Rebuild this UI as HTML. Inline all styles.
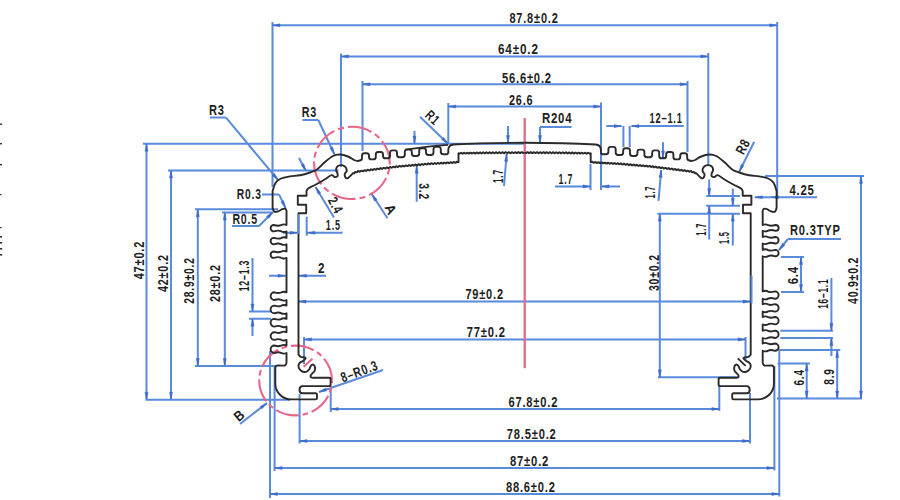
<!DOCTYPE html>
<html><head><meta charset="utf-8"><title>Profile drawing</title>
<style>html,body{margin:0;padding:0;background:#fff;overflow:hidden}svg{display:block}text{font-family:"Liberation Sans",sans-serif}</style>
</head><body>
<svg width="900" height="500" viewBox="0 0 900 500">
<rect width="900" height="500" fill="#ffffff"/>
<path d="M272.5 22L272.5 187M777.2 22L777.2 196M272.5 25.3L777.2 25.3M341 53.5L341 167M708.3 53L708.3 166M341 56.4L708.3 56.4M362.5 81L362.5 151M687.5 81L687.5 152M362.5 84.3L687.5 84.3M448.3 103L448.3 143.5M601 102.5L601 190M448.3 106.5L601 106.5M143 143.7L524 143.7M168 170.5L338.5 170.5M146.5 143.7L146.5 399.7M171 170.5L171 399.7M145.6 399.7L290 399.7M195 209.2L278 209.2M222 212.5L272 212.5M197.8 209.2L197.8 366M224.8 212.5L224.8 366M195 366L276 366M252.5 258L252.5 311.5M249 311.5L271 311.5M249 318.8L271 318.8M252.5 318.8L252.5 336M262 194.4L279 194.4M279 194.4L285.5 208M232 226L259 226M259 226L273 212M210 117.6L226 117.6M226 117.6L278 180M302.5 120L318.3 120M318.3 120L334.5 154.5M420 116.7L448 143.7M299 158L306 171M315.5 187L334 217.5M306.7 216.7L306.7 235.8M307.5 232.8L342.5 232.8M283 232.8L297.5 232.8M269 275.8L285.5 275.8M299 275.8L326 275.8M371.7 194L387.5 218.3M414.5 131L414.5 143.5M416.7 165.8L416.7 201.7M508 126L508 143M506.7 154L504 186M540 127L571.6 127M540 127L540 143M555 186.4L590.5 186.4M590.5 164L590.5 190M601.5 186.4L620 186.4M631.5 126.1L683.7 126.1M606.3 126.1L621.6 126.1M623.4 126L623.4 147M629.7 126L629.7 147M663 142.3L663 158.5M661.2 170L658.5 200.8M754.2 141.7L739.2 171.7M765 175.9L864 175.9M861 175.9L861 398.5M777 398.5L862 398.5M754.8 197.3L817 197.3M706.2 196L740 196M706.2 205.7L740 205.7M657.4 213.7L740 213.7M709.2 179.5L709.2 196M709.2 205.7L709.2 239.5M732.8 188.5L732.8 205.7M732.8 213.7L732.8 245.5M659.8 213.7L659.8 377.3M658 377.3L739 377.3M788 239L841 239M788 239L779 250M801 257L801 292M781 257L804 257M781 292L804 292M831.4 278L831.4 330.8M780.3 330.8L833 330.8M780.3 338L833 338M831.4 338L831.4 356M837.2 350L837.2 398.5M779 350L840.3 350M806.7 363.5L806.7 398.5M777.5 363.5L810 363.5M298.5 301.6L750.5 301.6M304 339.4L745.5 339.4M304 337L304 364M745.5 337L745.5 360M330.7 409L719.3 409M330.7 386L330.7 412M719.3 386L719.3 411M299.6 441L750 441M299.6 394L299.6 443.5M750 393L750 443.5M274.6 468L774.4 468M274.6 366L274.6 471M774.4 366L774.4 470.5M270 494L779.3 494M270 351L270 498M779.3 349.8L779.3 496.5M319 392L383 370M240 424L267 403" stroke="#5a8adb" stroke-width="2" fill="none"/>
<path d="M272.5 25.3L280 23.75L280 26.85ZM777.2 25.3L769.7 26.85L769.7 23.75ZM341 56.4L348.5 54.85L348.5 57.95ZM708.3 56.4L700.8 57.95L700.8 54.85ZM362.5 84.3L370 82.75L370 85.85ZM687.5 84.3L680 85.85L680 82.75ZM448.3 106.5L455.8 104.95L455.8 108.05ZM601 106.5L593.5 108.05L593.5 104.95ZM146.5 143.7L148.05 151.2L144.95 151.2ZM146.5 399.7L144.95 392.2L148.05 392.2ZM171 170.5L172.55 178L169.45 178ZM171 399.7L169.45 392.2L172.55 392.2ZM197.8 209.2L199.35 216.7L196.25 216.7ZM197.8 366L196.25 358.5L199.35 358.5ZM224.8 212.5L226.35 220L223.25 220ZM224.8 366L223.25 358.5L226.35 358.5ZM252.5 311.5L250.95 304L254.05 304ZM252.5 318.8L254.05 326.3L250.95 326.3ZM285.5 208L280.87 201.9L283.66 200.56ZM273 212L268.79 218.4L266.6 216.21ZM278 180L272.01 175.23L274.39 173.25ZM334.5 154.5L329.91 148.37L332.72 147.05ZM448 143.7L441.53 139.61L443.68 137.38ZM306 171L301.08 165.13L303.81 163.66ZM315.5 187L320.71 192.61L318.06 194.22ZM307.5 232.8L315 231.25L315 234.35ZM297.5 232.8L290 234.35L290 231.25ZM285.5 275.8L278 277.35L278 274.25ZM299 275.8L306.5 274.25L306.5 277.35ZM371.7 194L377.09 199.44L374.49 201.13ZM414.5 143.5L412.95 136L416.05 136ZM416.7 165.8L418.25 173.3L415.15 173.3ZM508 143L506.45 135.5L509.55 135.5ZM506.7 154L507.61 161.6L504.52 161.34ZM540 143L538.45 135.5L541.55 135.5ZM590.5 186.4L583 187.95L583 184.85ZM601.5 186.4L609 184.85L609 187.95ZM631.5 126.1L639 124.55L639 127.65ZM621.6 126.1L614.1 127.65L614.1 124.55ZM663 158.5L661.45 151L664.55 151ZM661.2 170L662.09 177.61L659 177.34ZM739.2 171.7L741.17 164.3L743.94 165.68ZM861 175.9L862.55 183.4L859.45 183.4ZM861 398.5L859.45 391L862.55 391ZM754.8 197.3L762.3 195.75L762.3 198.85ZM771 197.3L778.5 195.75L778.5 198.85ZM709.2 196L707.65 188.5L710.75 188.5ZM709.2 205.7L710.75 213.2L707.65 213.2ZM732.8 205.7L731.25 198.2L734.35 198.2ZM732.8 213.7L734.35 221.2L731.25 221.2ZM659.8 213.7L661.35 221.2L658.25 221.2ZM659.8 377.3L658.25 369.8L661.35 369.8ZM779 250L782.55 243.21L784.95 245.18ZM801 257L802.55 264.5L799.45 264.5ZM801 292L799.45 284.5L802.55 284.5ZM831.4 330.8L829.85 323.3L832.95 323.3ZM831.4 338L832.95 345.5L829.85 345.5ZM837.2 350L838.75 357.5L835.65 357.5ZM837.2 398.5L835.65 391L838.75 391ZM806.7 363.5L808.25 371L805.15 371ZM806.7 398.5L805.15 391L808.25 391ZM298.5 301.6L306 300.05L306 303.15ZM750.5 301.6L743 303.15L743 300.05ZM304 339.4L311.5 337.85L311.5 340.95ZM745.5 339.4L738 340.95L738 337.85ZM330.7 409L338.2 407.45L338.2 410.55ZM719.3 409L711.8 410.55L711.8 407.45ZM299.6 441L307.1 439.45L307.1 442.55ZM750 441L742.5 442.55L742.5 439.45ZM274.6 468L282.1 466.45L282.1 469.55ZM774.4 468L766.9 469.55L766.9 466.45ZM270 494L277.5 492.45L277.5 495.55ZM779.3 494L771.8 495.55L771.8 492.45ZM319 392L325.59 388.1L326.6 391.03ZM267 403L262.03 408.83L260.13 406.38Z" fill="#3d6bcc" stroke="#3d6bcc" stroke-width="0.4"/>
<line x1="524.7" y1="118" x2="524.7" y2="368.2" stroke="#ea6688" stroke-width="2.3"/>
<ellipse cx="351.9" cy="162.9" rx="37.8" ry="36.1" stroke="#ea6688" stroke-width="2.1" fill="none" stroke-dasharray="24.5 4 6 4" stroke-dashoffset="22.7"/>
<ellipse cx="295.6" cy="380.5" rx="36.4" ry="34.9" stroke="#ea6688" stroke-width="2.1" fill="none" stroke-dasharray="23.5 3.8 5.7 3.8" stroke-dashoffset="20.9"/>
<line x1="303.7" y1="366.8" x2="312.4" y2="358.7" stroke="#ea6688" stroke-width="2"/>
<g fill="none" stroke="#2a2a2a" stroke-width="1.9" stroke-linejoin="round">
<path d="M524.6 142.7 Q486 142.9 453.5 144.5 Q448.6 145 448.3 149.5 L448.3 152 Q448.3 154.2 446.5 154.2 L443.2 154.2 Q440.8 154.2 440.8 151.8 L440.8 149.3 Q440.8 146.9 438.4 146.9 L435.9 146.9 Q433.5 146.9 433.5 149.3 L433.5 152.6 Q433.5 155 431.1 155 L428.4 155 Q426 155 426 152.6 L426 150.7 Q426 148.3 423.6 148.3 L421.6 148.3 Q419.2 148.3 419.2 150.7 L419.2 153.6 Q419.2 156 416.8 156 L414.2 156 Q411.8 156 411.8 153.6 L411.8 152 Q411.8 149.6 409.4 149.6 L407.2 149.6 Q404.8 149.6 404.8 152 L404.8 154.8 Q404.8 157.2 402.4 157.2 L399.4 157.2 Q397 157.2 397 154.8 L397 152.8 Q397 150.4 394.6 150.4 L392.4 150.4 Q390 150.4 390 152.8 L390 155.9 Q390 158.3 387.6 158.3 L385.4 158.3 Q383 158.3 383 155.9 L383 154.4 Q383 152 380.6 152 L378.2 152 Q375.8 152 375.8 154.4 L375.8 157 Q375.8 159.4 373.4 159.4 L371.4 159.4 Q369 159.4 369 157 L369 155.7 Q369 153.3 366.6 153.3 L364.4 153.3 Q362 153.3 362 155.7 L362 158.1 Q362 160.5 359.6 160.5 L358 161 C357.33 160.83 355.67 160.75 354 160C352.33 159.25 350.33 157.42 348 156.5C345.67 155.58 342.5 154.58 340 154.5C337.5 154.42 335.5 154.75 333 156C330.5 157.25 327.67 159.75 325 162C322.33 164.25 319.5 167.75 317 169.5C314.5 171.25 312.83 171.53 310 172.5C307.17 173.47 303.33 174.65 300 175.3C296.67 175.95 293.17 175.87 290 176.4C286.83 176.93 283.42 177.4 281 178.5C278.58 179.6 276.9 180.92 275.5 183C274.1 185.08 273.08 189.67 272.6 191 L272.6 208 C272.87 208.6 273.27 211.03 274.2 211.6C275.13 212.17 276.87 211.8 278.2 211.4C279.53 211 281 209.63 282.2 209.2C283.4 208.77 284.68 208.5 285.4 208.8C286.12 209.1 286.32 210.3 286.5 211C286.68 211.7 286.5 212.67 286.5 213 L286.5 225 Q283.5 223.7 281 225.2 Q278.5 226.4 273.8 225 A3.2 3.2 0 0 0 273.8 231.4 Q278.5 230 281 231.2 Q283.5 232.7 286.5 231.4  L286.5 237.9 Q283.5 236.6 281 238.1 Q278.5 239.3 273.8 237.9 A3.2 3.2 0 0 0 273.8 244.3 Q278.5 242.9 281 244.1 Q283.5 245.6 286.5 244.3  L286.5 251.5 Q283.5 250.2 281 251.7 Q278.5 252.9 273.8 251.5 A3.2 3.2 0 0 0 273.8 257.9 Q278.5 256.5 281 257.7 Q283.5 259.2 286.5 257.9  L286.5 292.3 Q283.5 291 281 292.5 Q278.5 293.7 274.45 292.3 A3.85 3.85 0 0 0 274.45 300 Q278.5 298.6 281 299.8 Q283.5 301.3 286.5 300  L286.5 305.6 Q283.5 304.3 281 305.8 Q278.5 307 274.45 305.6 A3.85 3.85 0 0 0 274.45 313.3 Q278.5 311.9 281 313.1 Q283.5 314.6 286.5 313.3  L286.5 318.9 Q283.5 317.6 281 319.1 Q278.5 320.3 274.45 318.9 A3.85 3.85 0 0 0 274.45 326.6 Q278.5 325.2 281 326.4 Q283.5 327.9 286.5 326.6  L286.5 332.2 Q283.5 330.9 281 332.4 Q278.5 333.6 274.45 332.2 A3.85 3.85 0 0 0 274.45 339.9 Q278.5 338.5 281 339.7 Q283.5 341.2 286.5 339.9  L286.5 345.5 Q283.5 344.2 281 345.7 Q278.5 346.9 274.35 345.5 A3.75 3.75 0 0 0 274.35 353 Q278.5 351.6 281 352.8 Q283.5 354.3 286.5 353  L286.5 362.5 Q286.3 366 283 365.6 L278 365.4 Q275.3 365.4 275.3 368 L275.3 383.4 A16 16 0 0 0 291.3 399.4 L315.5 399.4 Q317 399.4 317 398 L317 394.6 Q317 393.3 315.5 393.3 L302.6 393.3 Q299.5 393.3 299.5 389.7 Q299.5 386.1 302.6 386.1 L329 386.1 Q330.6 386.1 330.6 384.5 L330.6 379.3 Q330.6 377.8 329 377.8 L314 377.8 C313.5 377.88 311.55 377.72 311 377.3C310.45 376.88 310.48 376.13 310.7 375.5C310.92 374.87 311.65 374.28 312.3 373.5C312.95 372.72 314.15 371.8 314.6 370.8C315.05 369.8 315.13 368.47 315 367.5C314.87 366.53 314.33 365.45 313.8 365C313.27 364.55 312.37 364.5 311.8 364.8C311.23 365.1 310.82 366.07 310.4 366.8C309.98 367.53 309.82 368.47 309.3 369.2C308.78 369.93 308.1 370.73 307.3 371.2C306.5 371.67 305.45 372.02 304.5 372C303.55 371.98 302.48 371.67 301.6 371.1C300.72 370.53 299.7 369.62 299.2 368.6C298.7 367.58 298.43 366.02 298.6 365C298.77 363.98 299.47 363.18 300.2 362.5C300.93 361.82 302.1 361.55 303 360.9C303.9 360.25 305.33 359.18 305.6 358.6C305.87 358.02 305.37 357.67 304.6 357.4C303.83 357.13 302.02 357.48 301 357C299.98 356.52 298.92 354.92 298.5 354.5 L298.5 213.2 L306.2 213.2 L306.2 204.8 L297.8 204.8 L297.8 195.8 L306.5 195.8 L306.5 191 C306.83 190.55 307.08 189.3 308.5 188.3C309.92 187.3 312.25 186.52 315 185C317.75 183.48 322.25 180.83 325 179.2C327.75 177.57 329.92 175.57 331.5 175.2C333.08 174.83 333.53 176.82 334.5 177C335.47 177.18 336.78 176.83 337.3 176.3C337.82 175.77 337.78 174.8 337.6 173.8C337.42 172.8 336.33 171.4 336.2 170.3C336.07 169.2 336.25 168.02 336.8 167.2C337.35 166.38 338.47 165.7 339.5 165.4C340.53 165.1 341.95 165.07 343 165.4C344.05 165.73 345.2 166.47 345.8 167.4C346.4 168.33 346.77 169.9 346.6 171C346.43 172.1 345.03 173 344.8 174C344.57 175 344.8 176.27 345.2 177C345.6 177.73 346.47 178.47 347.2 178.4C347.93 178.33 348.63 177.47 349.6 176.6C350.57 175.73 352.43 173.77 353 173.2 L353 173.2L354.01 173.43L354.61 172.47L355.34 171.89L356.44 172.37L357.29 172.15L357.94 171.06L358.77 171.09L359.68 171.75L360.46 171.46L361.18 170.6L362.02 170.73L362.92 171.37L363.69 170.98L364.41 170.15L365.26 170.38L366.16 170.97L366.92 170.5L367.65 169.71L368.51 170.02L369.4 170.57L370.15 170.01L370.88 169.28L371.76 169.67L372.64 170.16L373.38 169.52L374.12 168.86L375 169.32L375.87 169.75L376.61 169.06L377.35 168.47L378.24 168.99L379.1 169.35L379.83 168.62L380.58 168.09L381.47 168.65L382.32 168.96L383.05 168.18L383.81 167.72L384.7 168.32L385.55 168.55L386.27 167.74L387.04 167.35L387.93 167.98L388.77 168.15L389.49 167.31L390.27 166.98L391.16 167.64L391.99 167.73L392.71 166.87L393.49 166.62L394.39 167.3L395.21 167.32L395.93 166.44L396.72 166.27L397.62 166.95L398.44 166.9L399.15 166.02L399.97 165.91L400.84 166.63L401.65 166.53L402.4 165.68L403.21 165.69L404.09 166.4L404.89 166.21L405.64 165.37L406.46 165.47L407.34 166.16L408.13 165.89L408.88 165.07L409.71 165.25L410.58 165.92L411.37 165.57L412.12 164.78L412.96 165.03L413.83 165.67L414.61 165.25L415.36 164.49L416.21 164.82L417.07 165.42L417.85 164.92L418.6 164.21L419.45 164.6L420.32 165.16L421.08 164.59L421.85 163.93L422.7 164.39L423.56 164.89L424.32 164.26L425.09 163.66L425.95 164.18L426.8 164.62L427.56 163.93L428.33 163.39L429.2 163.97L430.03 164.34L430.81 163.62L431.6 163.18L432.45 163.83L433.29 164.14L434.06 163.38L434.86 163.02L435.71 163.71L436.54 163.93L437.31 163.13L438.12 162.86L438.97 163.58L439.8 163.71L440.57 162.89L441.38 162.72L442.23 163.45L443.05 163.49L443.82 162.66L444.63 162.58L445.49 163.32L446.31 163.26L447.08 162.43L447.89 162.44L448.75 163.18L449.56 163.03L450.33 162.2L451.15 162.32L452.01 163.04L452.81 162.79L453.59 161.99L454.42 162.19L455.27 162.89L456.07 162.54L456.84 161.78L457.68 162.07L458.5 162.2 L458.5 153.3 L458.5 153.3L459.34 153.83L460.15 153.21L460.97 152.71L461.81 153.35L462.64 153.75L463.46 153.04L464.28 152.68L465.12 153.4L465.95 153.65L466.76 152.87L467.59 152.67L468.43 153.44L469.26 153.52L470.07 152.71L470.9 152.68L471.74 153.47L472.56 153.38L473.38 152.57L474.21 152.72L475.05 153.47L475.87 153.22L476.68 152.46L477.52 152.76L478.36 153.46L479.18 153.05L479.99 152.36L480.8 152.79L481.61 153.42L482.4 152.98L483.19 152.33L484 152.76L484.81 153.39L485.6 152.95L486.39 152.3L487.2 152.73L488.01 153.36L488.8 152.91L489.59 152.26L490.4 152.69L491.21 153.33L492 152.88L492.79 152.23L493.6 152.66L494.41 153.3L495.2 152.85L495.99 152.2L496.8 152.63L497.61 153.26L498.4 152.82L499.19 152.17L500 152.6L500.82 153.24L501.64 152.75L502.46 152.14L503.28 152.67L504.1 153.23L504.92 152.65L505.74 152.13L506.56 152.74L507.38 153.21L508.2 152.55L509.02 152.13L509.84 152.81L510.66 153.18L511.48 152.46L512.3 152.14L513.12 152.88L513.94 153.13L514.76 152.37L515.58 152.17L516.4 152.94L517.22 153.07L518.04 152.28L518.86 152.21L519.68 153L520.5 153L521.32 152.21L522.14 152.26L522.96 153.04L523.78 152.92L524.6 152.6"/>
<path d="M448 144.9 Q430 146.2 405 149.6"/>
<path d="M737.8 358.4L745.6 365.9"/>
<path transform="translate(1049.2 0) scale(-1 1)" d="M524.6 142.7 Q486 142.9 453.5 144.5 Q448.6 145 448.3 149.5 L448.3 152 Q448.3 154.2 446.5 154.2 L443.2 154.2 Q440.8 154.2 440.8 151.8 L440.8 149.3 Q440.8 146.9 438.4 146.9 L435.9 146.9 Q433.5 146.9 433.5 149.3 L433.5 152.6 Q433.5 155 431.1 155 L428.4 155 Q426 155 426 152.6 L426 150.7 Q426 148.3 423.6 148.3 L421.6 148.3 Q419.2 148.3 419.2 150.7 L419.2 153.6 Q419.2 156 416.8 156 L414.2 156 Q411.8 156 411.8 153.6 L411.8 152 Q411.8 149.6 409.4 149.6 L407.2 149.6 Q404.8 149.6 404.8 152 L404.8 154.8 Q404.8 157.2 402.4 157.2 L399.4 157.2 Q397 157.2 397 154.8 L397 152.8 Q397 150.4 394.6 150.4 L392.4 150.4 Q390 150.4 390 152.8 L390 155.9 Q390 158.3 387.6 158.3 L385.4 158.3 Q383 158.3 383 155.9 L383 154.4 Q383 152 380.6 152 L378.2 152 Q375.8 152 375.8 154.4 L375.8 157 Q375.8 159.4 373.4 159.4 L371.4 159.4 Q369 159.4 369 157 L369 155.7 Q369 153.3 366.6 153.3 L364.4 153.3 Q362 153.3 362 155.7 L362 158.1 Q362 160.5 359.6 160.5 L358 161 C357.33 160.83 355.67 160.75 354 160C352.33 159.25 350.33 157.42 348 156.5C345.67 155.58 342.5 154.58 340 154.5C337.5 154.42 335.5 154.75 333 156C330.5 157.25 327.67 159.75 325 162C322.33 164.25 319.5 167.75 317 169.5C314.5 171.25 312.83 171.53 310 172.5C307.17 173.47 303.33 174.65 300 175.3C296.67 175.95 293.17 175.87 290 176.4C286.83 176.93 283.42 177.4 281 178.5C278.58 179.6 276.9 180.92 275.5 183C274.1 185.08 273.08 189.67 272.6 191 L272.6 208 C272.87 208.6 273.27 211.03 274.2 211.6C275.13 212.17 276.87 211.8 278.2 211.4C279.53 211 281 209.63 282.2 209.2C283.4 208.77 284.68 208.5 285.4 208.8C286.12 209.1 286.32 210.3 286.5 211C286.68 211.7 286.5 212.67 286.5 213 L286.5 225 Q283.5 223.7 281 225.2 Q278.5 226.4 273.5 225 A2.9 2.9 0 0 0 273.5 230.8 Q278.5 229.4 281 230.6 Q283.5 232.1 286.5 230.8  L286.5 237 Q283.5 235.7 281 237.2 Q278.5 238.4 273.85 237 A3.25 3.25 0 0 0 273.85 243.5 Q278.5 242.1 281 243.3 Q283.5 244.8 286.5 243.5  L286.5 249.9 Q283.5 248.6 281 250.1 Q278.5 251.3 273.8 249.9 A3.2 3.2 0 0 0 273.8 256.3 Q278.5 254.9 281 256.1 Q283.5 257.6 286.5 256.3  L286.5 291.4 Q283.5 290.1 281 291.6 Q278.5 292.8 274.3 291.4 A3.7 3.7 0 0 0 274.3 298.8 Q278.5 297.4 281 298.6 Q283.5 300.1 286.5 298.8  L286.5 304.2 Q283.5 302.9 281 304.4 Q278.5 305.6 274.3 304.2 A3.7 3.7 0 0 0 274.3 311.6 Q278.5 310.2 281 311.4 Q283.5 312.9 286.5 311.6  L286.5 317 Q283.5 315.7 281 317.2 Q278.5 318.4 274.3 317 A3.7 3.7 0 0 0 274.3 324.4 Q278.5 323 281 324.2 Q283.5 325.7 286.5 324.4  L286.5 330.7 Q283.5 329.4 281 330.9 Q278.5 332.1 274.25 330.7 A3.65 3.65 0 0 0 274.25 338 Q278.5 336.6 281 337.8 Q283.5 339.3 286.5 338  L286.5 343.5 Q283.5 342.2 281 343.7 Q278.5 344.9 274.25 343.5 A3.65 3.65 0 0 0 274.25 350.8 Q278.5 349.4 281 350.6 Q283.5 352.1 286.5 350.8  L286.5 362.5 Q286.3 366 283 365.6 L278 365.4 Q275.3 365.4 275.3 368 L275.3 383.4 A16 16 0 0 0 291.3 399.4 L315.5 399.4 Q317 399.4 317 398 L317 394.6 Q317 393.3 315.5 393.3 L302.6 393.3 Q299.5 393.3 299.5 389.7 Q299.5 386.1 302.6 386.1 L329 386.1 Q330.6 386.1 330.6 384.5 L330.6 379.3 Q330.6 377.8 329 377.8 L314 377.8 C313.5 377.88 311.55 377.72 311 377.3C310.45 376.88 310.48 376.13 310.7 375.5C310.92 374.87 311.65 374.28 312.3 373.5C312.95 372.72 314.15 371.8 314.6 370.8C315.05 369.8 315.13 368.47 315 367.5C314.87 366.53 314.33 365.45 313.8 365C313.27 364.55 312.37 364.5 311.8 364.8C311.23 365.1 310.82 366.07 310.4 366.8C309.98 367.53 309.82 368.47 309.3 369.2C308.78 369.93 308.1 370.73 307.3 371.2C306.5 371.67 305.45 372.02 304.5 372C303.55 371.98 302.48 371.67 301.6 371.1C300.72 370.53 299.7 369.62 299.2 368.6C298.7 367.58 298.43 366.02 298.6 365C298.77 363.98 299.47 363.18 300.2 362.5C300.93 361.82 302.1 361.55 303 360.9C303.9 360.25 305.33 359.18 305.6 358.6C305.87 358.02 305.37 357.67 304.6 357.4C303.83 357.13 302.02 357.48 301 357C299.98 356.52 298.92 354.92 298.5 354.5 L298.5 213.2 L306.2 213.2 L306.2 204.8 L297.8 204.8 L297.8 195.8 L306.5 195.8 L306.5 191 C306.83 190.55 307.08 189.3 308.5 188.3C309.92 187.3 312.25 186.52 315 185C317.75 183.48 322.25 180.83 325 179.2C327.75 177.57 329.92 175.57 331.5 175.2C333.08 174.83 333.53 176.82 334.5 177C335.47 177.18 336.78 176.83 337.3 176.3C337.82 175.77 337.78 174.8 337.6 173.8C337.42 172.8 336.33 171.4 336.2 170.3C336.07 169.2 336.25 168.02 336.8 167.2C337.35 166.38 338.47 165.7 339.5 165.4C340.53 165.1 341.95 165.07 343 165.4C344.05 165.73 345.2 166.47 345.8 167.4C346.4 168.33 346.77 169.9 346.6 171C346.43 172.1 345.03 173 344.8 174C344.57 175 344.8 176.27 345.2 177C345.6 177.73 346.47 178.47 347.2 178.4C347.93 178.33 348.63 177.47 349.6 176.6C350.57 175.73 352.43 173.77 353 173.2 L353 173.2L354.01 173.43L354.61 172.47L355.34 171.89L356.44 172.37L357.29 172.15L357.94 171.06L358.77 171.09L359.68 171.75L360.46 171.46L361.18 170.6L362.02 170.73L362.92 171.37L363.69 170.98L364.41 170.15L365.26 170.38L366.16 170.97L366.92 170.5L367.65 169.71L368.51 170.02L369.4 170.57L370.15 170.01L370.88 169.28L371.76 169.67L372.64 170.16L373.38 169.52L374.12 168.86L375 169.32L375.87 169.75L376.61 169.06L377.35 168.47L378.24 168.99L379.1 169.35L379.83 168.62L380.58 168.09L381.47 168.65L382.32 168.96L383.05 168.18L383.81 167.72L384.7 168.32L385.55 168.55L386.27 167.74L387.04 167.35L387.93 167.98L388.77 168.15L389.49 167.31L390.27 166.98L391.16 167.64L391.99 167.73L392.71 166.87L393.49 166.62L394.39 167.3L395.21 167.32L395.93 166.44L396.72 166.27L397.62 166.95L398.44 166.9L399.15 166.02L399.97 165.91L400.84 166.63L401.65 166.53L402.4 165.68L403.21 165.69L404.09 166.4L404.89 166.21L405.64 165.37L406.46 165.47L407.34 166.16L408.13 165.89L408.88 165.07L409.71 165.25L410.58 165.92L411.37 165.57L412.12 164.78L412.96 165.03L413.83 165.67L414.61 165.25L415.36 164.49L416.21 164.82L417.07 165.42L417.85 164.92L418.6 164.21L419.45 164.6L420.32 165.16L421.08 164.59L421.85 163.93L422.7 164.39L423.56 164.89L424.32 164.26L425.09 163.66L425.95 164.18L426.8 164.62L427.56 163.93L428.33 163.39L429.2 163.97L430.03 164.34L430.81 163.62L431.6 163.18L432.45 163.83L433.29 164.14L434.06 163.38L434.86 163.02L435.71 163.71L436.54 163.93L437.31 163.13L438.12 162.86L438.97 163.58L439.8 163.71L440.57 162.89L441.38 162.72L442.23 163.45L443.05 163.49L443.82 162.66L444.63 162.58L445.49 163.32L446.31 163.26L447.08 162.43L447.89 162.44L448.75 163.18L449.56 163.03L450.33 162.2L451.15 162.32L452.01 163.04L452.81 162.79L453.59 161.99L454.42 162.19L455.27 162.89L456.07 162.54L456.84 161.78L457.68 162.07L458.5 162.2 L458.5 153.3 L458.5 153.3L459.34 153.83L460.15 153.21L460.97 152.71L461.81 153.35L462.64 153.75L463.46 153.04L464.28 152.68L465.12 153.4L465.95 153.65L466.76 152.87L467.59 152.67L468.43 153.44L469.26 153.52L470.07 152.71L470.9 152.68L471.74 153.47L472.56 153.38L473.38 152.57L474.21 152.72L475.05 153.47L475.87 153.22L476.68 152.46L477.52 152.76L478.36 153.46L479.18 153.05L479.99 152.36L480.8 152.79L481.61 153.42L482.4 152.98L483.19 152.33L484 152.76L484.81 153.39L485.6 152.95L486.39 152.3L487.2 152.73L488.01 153.36L488.8 152.91L489.59 152.26L490.4 152.69L491.21 153.33L492 152.88L492.79 152.23L493.6 152.66L494.41 153.3L495.2 152.85L495.99 152.2L496.8 152.63L497.61 153.26L498.4 152.82L499.19 152.17L500 152.6L500.82 153.24L501.64 152.75L502.46 152.14L503.28 152.67L504.1 153.23L504.92 152.65L505.74 152.13L506.56 152.74L507.38 153.21L508.2 152.55L509.02 152.13L509.84 152.81L510.66 153.18L511.48 152.46L512.3 152.14L513.12 152.88L513.94 153.13L514.76 152.37L515.58 152.17L516.4 152.94L517.22 153.07L518.04 152.28L518.86 152.21L519.68 153L520.5 153L521.32 152.21L522.14 152.26L522.96 153.04L523.78 152.92L524.6 152.6"/>
</g>
<path d="M751.5 275.6L751.5 303.3M298.3 214L298.3 234" stroke="#5a8adb" stroke-width="2" fill="none"/>
<g font-family="Liberation Sans, sans-serif" font-weight="bold" fill="#1e1e1e">
<text x="0 8.8 17.6 22.51 31.31 40.01 48.81 53.72" y="0" font-size="14" transform="translate(509.4 22.8) scale(0.787 1)">87.8±0.2</text>
<text x="0 8.77 17.53 26.2 34.96 39.84" y="0" font-size="14" transform="translate(498 54) scale(0.840 1)">64±0.2</text>
<text x="0 8.79 17.57 22.47 31.25 39.94 48.73 53.62" y="0" font-size="14" transform="translate(502 82.5) scale(0.798 1)">56.6±0.2</text>
<text x="0 8.82 17.63 22.56" y="0" font-size="14" transform="translate(509 104.5) scale(0.774 1)">26.6</text>
<text x="0 11.12" y="0" font-size="14" transform="translate(209 115) scale(0.794 1)">R3</text>
<text x="0 11.15" y="0" font-size="14" transform="translate(301.7 116.8) scale(0.771 1)">R3</text>
<text x="0 11.09 19.85 28.62" y="0" font-size="14" transform="translate(541.9 123.4) scale(0.816 1)">R204</text>
<text x="0 8.99 17.98 26.97 35.96 41.06" y="0" font-size="14" transform="translate(649.5 123.4) scale(0.663 1)">12–1.1</text>
<text x="0 11.19 20.06 25.04" y="0" font-size="14" transform="translate(236.8 198.5) scale(0.737 1)">R0.3</text>
<text x="0 11.16 20 24.95" y="0" font-size="14" transform="translate(232.4 223.5) scale(0.758 1)">R0.5</text>
<text x="0 9.02 14.15" y="0" font-size="14" transform="translate(325.8 230) scale(0.647 1)">1.5</text>
<text x="0" y="0" font-size="14" transform="translate(318 273.2) scale(0.835 1)">2</text>
<text x="0 9.05 14.21" y="0" font-size="14" transform="translate(558.6 183.7) scale(0.632 1)">1.7</text>
<text x="0 8.77 13.65 22.42" y="0" font-size="14" transform="translate(789.4 194.7) scale(0.811 1)">4.25</text>
<text x="0 11.11 19.9 24.8 33.59 43.15 53.49" y="0" font-size="14" transform="translate(790 235) scale(0.796 1)">R0.3TYP</text>
<text x="0 8.8 17.6 26.3 35.11 40.02" y="0" font-size="14" transform="translate(465.4 298.9) scale(0.787 1)">79±0.2</text>
<text x="0 8.78 17.56 26.24 35.02 39.91" y="0" font-size="14" transform="translate(466.7 337.2) scale(0.803 1)">77±0.2</text>
<text x="0 8.79 17.57 22.47 31.25 39.94 48.73 53.62" y="0" font-size="14" transform="translate(508.4 407) scale(0.798 1)">67.8±0.2</text>
<text x="0 8.79 17.57 22.47 31.25 39.94 48.73 53.62" y="0" font-size="14" transform="translate(506.8 439.2) scale(0.798 1)">78.5±0.2</text>
<text x="0 8.78 17.55 26.23 35.01 39.9" y="0" font-size="14" transform="translate(510 465.8) scale(0.805 1)">87±0.2</text>
<text x="0 8.79 17.57 22.47 31.25 39.94 48.73 53.62" y="0" font-size="14" transform="translate(505.9 491.5) scale(0.798 1)">88.6±0.2</text>
<text x="0 8.8 17.6 26.3 35.11 40.02" y="0" font-size="14" transform="translate(144.1 279.3) rotate(-90) scale(0.787 1)">47±0.2</text>
<text x="0 8.82 17.64 26.36 35.18 40.11" y="0" font-size="14" transform="translate(168.4 292) rotate(-90) scale(0.773 1)">42±0.2</text>
<text x="0 8.87 17.73 22.71 31.57 40.34 49.21 54.18" y="0" font-size="14" transform="translate(193.8 303.8) rotate(-90) scale(0.739 1)">28.9±0.2</text>
<text x="0 8.82 17.64 26.36 35.18 40.11" y="0" font-size="14" transform="translate(220.2 302) rotate(-90) scale(0.773 1)">28±0.2</text>
<text x="0 9.07 18.13 27.2 36.27 41.44" y="0" font-size="14" transform="translate(249.2 291.3) rotate(-90) scale(0.624 1)">12–1.3</text>
<text x="0 8.85 17.7 26.46 35.31 40.27" y="0" font-size="14" transform="translate(658.6 291) rotate(-90) scale(0.749 1)">30±0.2</text>
<text x="0 8.76 13.63" y="0" font-size="14" transform="translate(797.5 284.3) rotate(-90) scale(0.817 1)">6.4</text>
<text x="0 9.13 18.26 27.4 36.53 41.77" y="0" font-size="14" transform="translate(828.3 308.8) rotate(-90) scale(0.593 1)">16–1.1</text>
<text x="0 8.86 17.71 22.68 31.53 40.29 49.14 54.11" y="0" font-size="14" transform="translate(857.7 303.9) rotate(-90) scale(0.746 1)">40.9±0.2</text>
<text x="0 8.89 13.88" y="0" font-size="14" transform="translate(834.3 384.7) rotate(-90) scale(0.725 1)">8.9</text>
<text x="0 8.9 13.92" y="0" font-size="14" transform="translate(804 385.5) rotate(-90) scale(0.714 1)">6.4</text>
<text x="0 9.15 14.41" y="0" font-size="14" transform="translate(503 183) rotate(-90) scale(0.586 1)">1.7</text>
<text x="0 9.27 14.64" y="0" font-size="14" transform="translate(655.2 198.6) rotate(-90) scale(0.540 1)">1.7</text>
<text x="0 9.28 14.67" y="0" font-size="14" transform="translate(706.2 235.7) rotate(-90) scale(0.534 1)">1.7</text>
<text x="0 9.28 14.67" y="0" font-size="14" transform="translate(728.7 244) rotate(-90) scale(0.534 1)">1.5</text>
<text x="0 8.87 13.84" y="0" font-size="14" transform="translate(419.2 183.3) rotate(90) scale(0.740 1)">3.2</text>
<text x="-9.51 1.73" y="0" font-size="14" transform="translate(432.4 117.4) rotate(43) scale(0.710 1) translate(0 4.82)">R1</text>
<text x="-10.81 -1.95 3.03" y="0" font-size="14" transform="translate(335.4 205) rotate(62) scale(0.740 1) translate(0 4.82)">2.4</text>
<text x="-5.05" y="0" font-size="14" transform="translate(390.6 209.2) rotate(63) scale(0.940 1) translate(0 4.82)">A</text>
<text x="-9.47 1.68" y="0" font-size="14" transform="translate(742.6 146.8) rotate(-62) scale(0.766 1) translate(0 4.82)">R8</text>
<text x="-25.22 -16.38 -7.53 3.64 12.49 17.44" y="0" font-size="14" transform="translate(359 371.5) rotate(-20) scale(0.753 1) translate(0 4.82)">8–R0.3</text>
<text x="-5.05" y="0" font-size="14" transform="translate(239 415.6) rotate(-40) scale(0.890 1) translate(0 4.82)">B</text>
</g>
<g fill="#333"><rect x="0" y="123.5" width="2.2" height="1.4"/><rect x="0" y="143" width="2" height="1.4"/><rect x="0" y="164" width="2" height="1.4"/><rect x="0" y="194" width="1.6" height="1.2"/><rect x="0" y="227" width="1.6" height="1.2"/><rect x="0" y="236" width="2" height="1.6"/><rect x="0" y="242" width="2.2" height="1.6"/><rect x="0" y="248" width="2.2" height="1.6"/><rect x="0" y="254" width="2.2" height="1.6"/></g>
</svg>
</body></html>
